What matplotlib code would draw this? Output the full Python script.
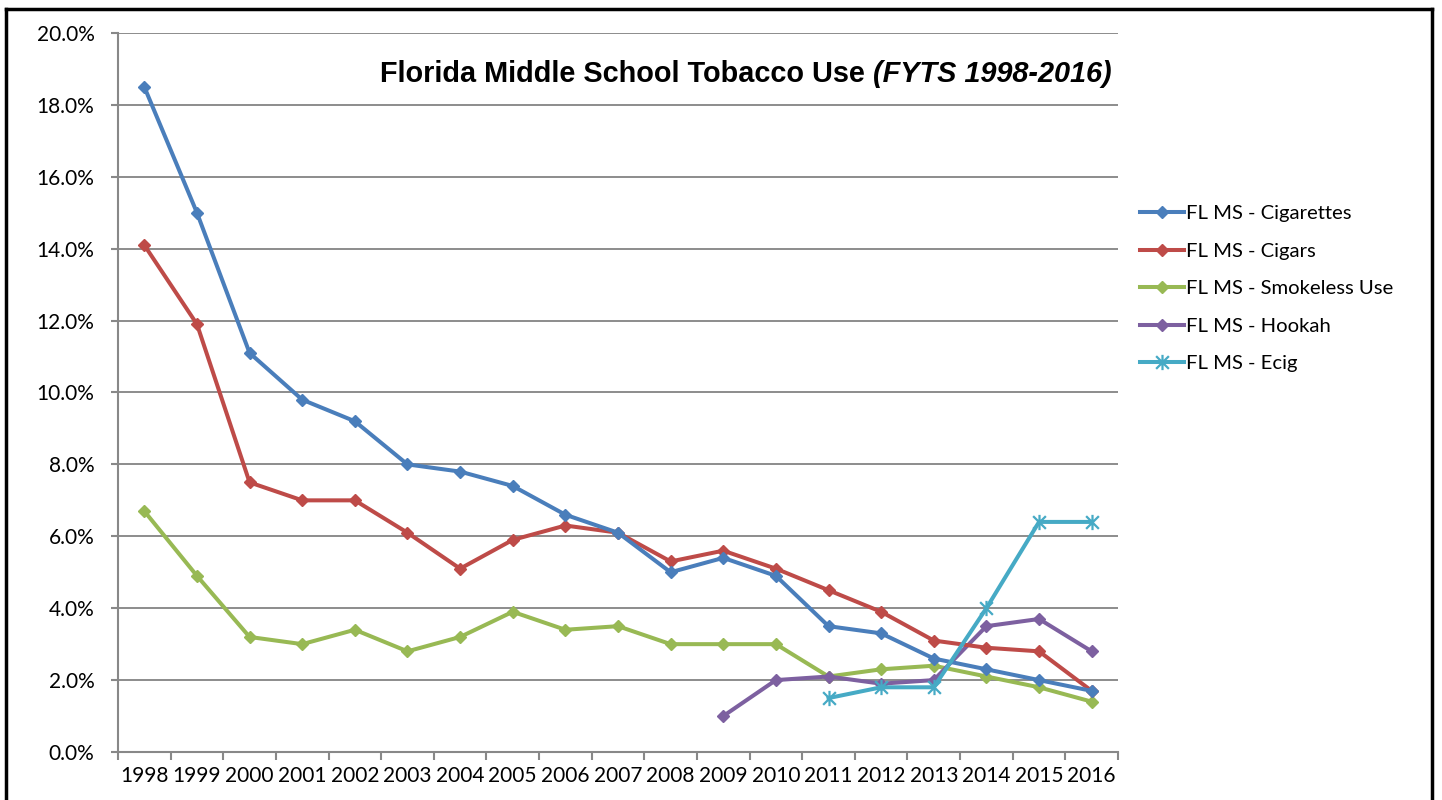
import matplotlib
matplotlib.use('Agg')
import matplotlib.pyplot as plt
from matplotlib.lines import Line2D
from matplotlib.path import Path
import numpy as np

years = [str(y) for y in range(1998, 2017)]
cigarettes = [18.5, 15.0, 11.1, 9.8, 9.2, 8.0, 7.8, 7.4, 6.6, 6.1, 5.0, 5.4, 4.9, 3.5, 3.3, 2.6, 2.3, 2.0, 1.7]
cigars = [14.1, 11.9, 7.5, 7.0, 7.0, 6.1, 5.1, 5.9, 6.3, 6.1, 5.3, 5.6, 5.1, 4.5, 3.9, 3.1, 2.9, 2.8, 1.7]
smokeless = [6.7, 4.9, 3.2, 3.0, 3.4, 2.8, 3.2, 3.9, 3.4, 3.5, 3.0, 3.0, 3.0, 2.1, 2.3, 2.4, 2.1, 1.8, 1.4]
hookah_years = ['2009', '2010', '2011', '2012', '2013', '2014', '2015', '2016']
hookah = [1.0, 2.0, 2.1, 1.9, 2.0, 3.5, 3.7, 2.8]
ecig_years = ['2011', '2012', '2013', '2014', '2015', '2016']
ecig = [1.5, 1.8, 1.8, 4.0, 6.4, 6.4]

plt.rcParams['font.family'] = ['Lato', 'DejaVu Sans']

# asterisk marker: an X plus a vertical bar
star = Path([(-1, -1), (1, 1), (-1, 1), (1, -1), (0, -1.2), (0, 1.2)],
            [Path.MOVETO, Path.LINETO, Path.MOVETO, Path.LINETO, Path.MOVETO, Path.LINETO])

fig = plt.figure(figsize=(14.42, 8), dpi=100)
ax = fig.add_axes([118/1442, 1-752/800, 1000/1442, 719/800])

xpos = {y: i for i, y in enumerate(years)}
lw = 2.9
ax.plot(range(len(years)), cigarettes, color='#4A7EBB', lw=lw, marker='D', ms=6.5, label='FL MS - Cigarettes', zorder=5)
ax.plot(range(len(years)), cigars, color='#BE4B48', lw=lw, marker='D', ms=6.5, label='FL MS - Cigars', zorder=4)
ax.plot(range(len(years)), smokeless, color='#98B954', lw=lw, marker='D', ms=6.5, label='FL MS - Smokeless Use', zorder=3)
ax.plot([xpos[y] for y in hookah_years], hookah, color='#7D60A0', lw=lw, marker='D', ms=6.5, label='FL MS - Hookah', zorder=3)
ax.plot([xpos[y] for y in ecig_years], ecig, color='#46AAC5', lw=lw, marker=star, ms=11, mew=1.6,
        mfc='none', label='FL MS - Ecig', zorder=6)

ax.set_xlim(-0.5, len(years) - 0.5)
ax.set_ylim(0, 20)
ax.set_yticks(np.arange(0, 21, 2))
ax.set_yticklabels(['%.1f%%' % v for v in np.arange(0, 21, 2)], fontsize=15)
ax.set_xticks(range(len(years)))
ax.set_xticklabels(years, fontsize=15)
ax.set_xticks(np.arange(-0.5, len(years)), minor=True)
ax.tick_params(axis='x', which='major', length=0, pad=10)
ax.tick_params(axis='x', which='minor', length=5.5, color='#888888', width=1.5)
ax.tick_params(axis='y', length=5, color='#888888', width=1.5, pad=12)
ax.grid(axis='y', color='#8c8c8c', lw=1.4)
ax.set_axisbelow(True)
for s in ['top', 'right']:
    ax.spines[s].set_visible(False)
for s in ['left', 'bottom']:
    ax.spines[s].set_color('#888888')
    ax.spines[s].set_linewidth(1.5)

t1 = fig.text(380/1442, 1-74/800, 'Florida Middle School Tobacco Use ', family='Liberation Sans',
              fontweight='bold', fontsize=20.8, va='center', ha='left',
              bbox=dict(facecolor='white', edgecolor='none', pad=6))
fig.canvas.draw()
bb = t1.get_window_extent()
fig.text(bb.x1/1442, 1-74/800, '(FYTS 1998-2016)', family='Liberation Sans', fontweight='bold',
         style='italic', fontsize=20.8, va='center', ha='left',
         bbox=dict(facecolor='white', edgecolor='none', pad=6))

fig.legend(loc='upper left', bbox_to_anchor=(1122/1442, 1-187/800), frameon=False,
           fontsize=14.6, handlelength=2.15, handletextpad=0.1, labelspacing=1.0)

for (x0, y0, x1, y1) in [(6, 9, 1432, 9), (6, 9, 6, 800), (1432, 9, 1432, 800)]:
    fig.add_artist(Line2D([x0/1442, x1/1442], [1-y0/800, 1-y1/800], color='black', lw=2.5))

plt.savefig('out.png', dpi=100)
